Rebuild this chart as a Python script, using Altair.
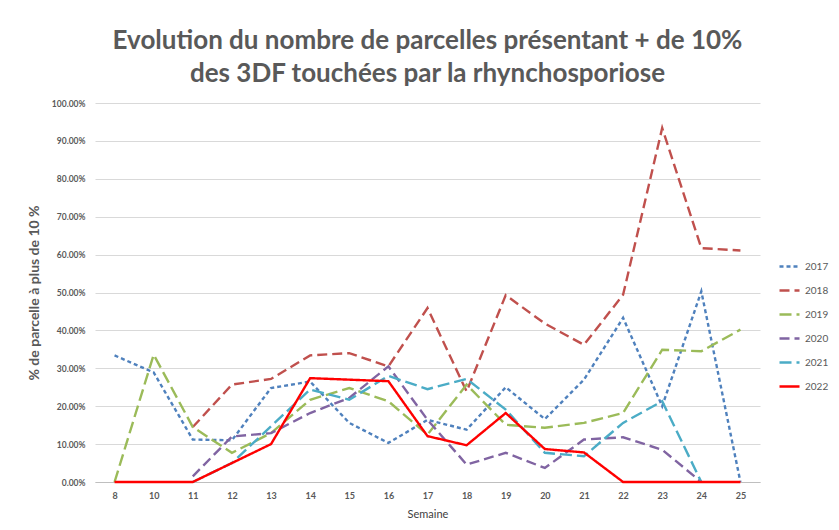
import altair as alt
import pandas as pd

weeks = ["8", "10", "11", "12", "13", "14", "15", "16", "17", "18", "19", "20", "21", "22", "23", "24", "25"]
years = ["2017", "2018", "2019", "2020", "2021", "2022"]

v2017 = [33.4, 28.9, 11.2, 11.0, 24.8, 26.5, 15.6, 10.3, 16.4, 13.8, 25.0, 16.6, 27.0, 43.3, 20.0, 50.3, 0.0]
v2018 = [None, None, 14.5, 25.7, 27.2, 33.4, 34.0, 30.5, 45.9, 23.9, 49.3, 41.8, 36.2, 49.4, 93.4, 61.7, 61.1]
v2019 = [0.0, 33.6, 14.5, 7.7, 12.9, 21.7, 24.8, 21.3, 12.5, 25.7, 15.1, 14.3, 15.6, 18.2, 34.9, 34.5, 40.2]
v2020 = [None, None, 1.5, 12.0, 12.9, 18.2, 22.2, 30.5, 16.4, 4.6, 7.7, 3.7, 11.2, 11.8, 8.5, 0.0, None]
v2021 = [None, None, 0.0, 5.0, 14.7, 24.4, 21.7, 28.0, 24.5, 27.2, 19.1, 7.7, 6.8, 15.6, 21.3, 0.0, None]
v2022 = [0.0, 0.0, 0.0, 5.0, 10.0, 27.4, 27.0, 26.6, 12.1, 9.7, 18.2, 8.7, 7.8, 0.0, 0.0, 0.0, 0.0]

colors = ["#4F81BD", "#C0504D", "#9BBB59", "#8064A2", "#4BACC6", "#FF0000"]
dashes = [[4, 3], [10, 5], [12, 5], [10, 5], [12, 5], [1, 0]]
widths = [2.4, 2.4, 2.4, 2.4, 2.4, 4]

series = [v2017, v2018, v2019, v2020, v2021, v2022]
rows = []
for y, vals in zip(years, series):
    for w, v in zip(weeks, vals):
        if v is not None:
            rows.append({"Semaine": w, "Année": y, "val": v / 100.0})
df = pd.DataFrame(rows)

legend = alt.Legend(
    title=None, orient="none", legendX=683, legendY=152,
    symbolType="stroke", symbolSize=400, symbolStrokeWidth=2.5,
    labelFontSize=10, labelColor="#595959", rowPadding=7, labelFont="Lato",
)

chart = alt.Chart(df).mark_line().encode(
    x=alt.X("Semaine:O", sort=weeks, title="Semaine",
            scale=alt.Scale(padding=0.5),
            axis=alt.Axis(labelAngle=0, ticks=False, domainColor="#bfbfbf",
                          labelFontSize=9, labelFontWeight="bold", labelColor="#595959",
                          titleFontSize=11, titleFontWeight="normal", titleColor="#404040",
                          labelFont="Lato", titleFont="Lato", labelPadding=9, titlePadding=8)),
    y=alt.Y("val:Q", title="% de parcelle à plus de 10 %",
            scale=alt.Scale(domain=[0, 1]),
            axis=alt.Axis(format=".2%", values=[i / 10 for i in range(11)], ticks=False,
                          domain=False, gridColor="#d9d9d9", gridWidth=1,
                          labelFontSize=8.5, labelFontWeight="bold", labelColor="#595959",
                          titleFontSize=14, titleFontWeight="bold", titleColor="#595959",
                          labelFont="Lato", titleFont="Lato", labelPadding=10, titlePadding=10)),
    color=alt.Color("Année:N", scale=alt.Scale(domain=years, range=colors), legend=legend),
    strokeDash=alt.StrokeDash("Année:N", scale=alt.Scale(domain=years, range=dashes), legend=legend),
    strokeWidth=alt.StrokeWidth("Année:N", scale=alt.Scale(domain=years, range=widths), legend=None),
).properties(
    width=665, height=379,
    title=alt.TitleParams(
        text=["Evolution du nombre de parcelles présentant + de 10%",
              "des 3DF touchées par la rhynchosporiose"],
        font="Lato", fontSize=26, fontWeight="bold", color="#595959",
        lineHeight=33, offset=12, anchor="middle",
    ),
    autosize=alt.AutoSizeParams(type="none"),
    padding={"left": 87, "top": 95, "right": 71, "bottom": 40},
).configure_view(stroke=None)

chart.save("out.html", embed_options={"renderer": "svg", "actions": False})
